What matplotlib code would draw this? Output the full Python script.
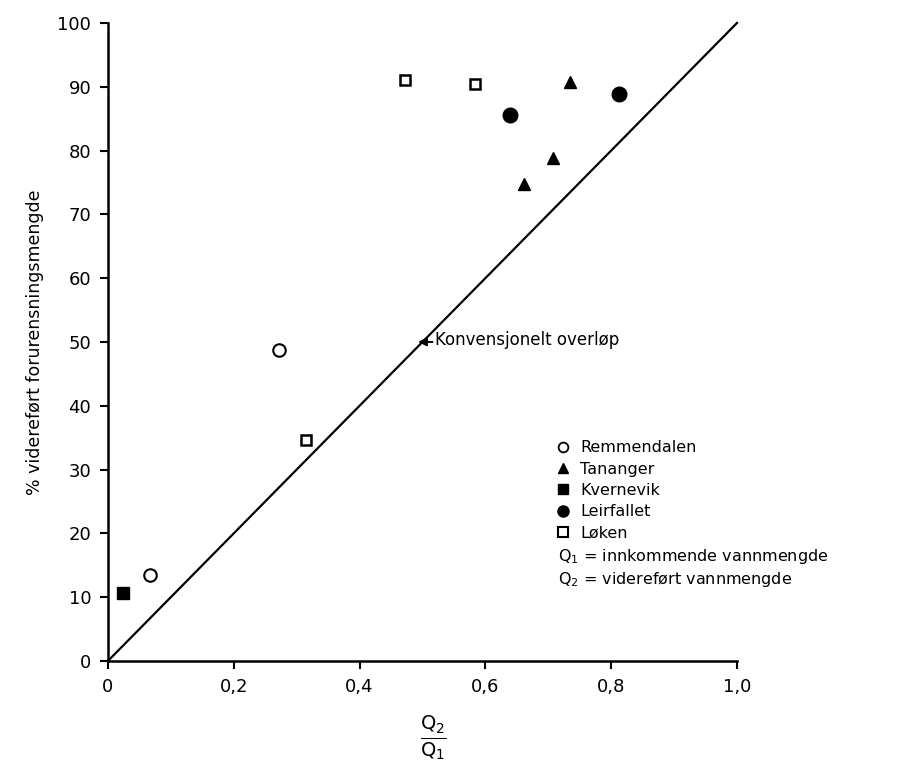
import matplotlib.pyplot as plt
from matplotlib.lines import Line2D

plt.rcParams['font.family'] = ['DejaVu Sans']
plt.rcParams['mathtext.fontset'] = 'dejavusans'

# data
remmendalen_x = [0.067, 0.272]
remmendalen_y = [13.4, 48.7]
tananger_x = [0.661, 0.707, 0.734]
tananger_y = [74.8, 78.8, 90.8]
kvernevik_x = [0.024]
kvernevik_y = [10.6]
leirfallet_x = [0.639, 0.812]
leirfallet_y = [85.5, 88.8]
loken_x = [0.315, 0.472, 0.583]
loken_y = [34.6, 91.0, 90.4]

line_x = [0.0, 1.0]
line_y = [0.0, 100.0]

x_ticks = [0, 0.2, 0.4, 0.6, 0.8, 1.0]
x_labels = ['0', '0,2', '0,4', '0,6', '0,8', '1,0']
y_ticks = list(range(0, 101, 10))

fig = plt.figure(figsize=(9.07, 7.8), dpi=100)
ax = fig.add_axes([0.119, 0.1526, 0.6936, 0.818])

ax.plot(line_x, line_y, color='black', lw=1.6, clip_on=False)

ax.plot(remmendalen_x, remmendalen_y, 'o', ms=9, mfc='white', mec='black', mew=1.5, clip_on=False)
ax.plot(tananger_x, tananger_y, '^', ms=9, color='black', clip_on=False)
ax.plot(kvernevik_x, kvernevik_y, 's', ms=9, color='black', clip_on=False)
ax.plot(leirfallet_x, leirfallet_y, 'o', ms=10.5, color='black', clip_on=False)
ax.plot(loken_x, loken_y, 's', ms=7, mfc='white', mec='black', mew=1.8, clip_on=False)

# arrow pointing at the diagonal, then the label
ax.annotate('', xy=(0.493, 50.0), xytext=(0.516, 50.0),
            arrowprops=dict(arrowstyle='-|>', color='black', lw=1.4, mutation_scale=12,
                            shrinkA=0, shrinkB=0))
ax.text(0.52, 50.3, 'Konvensjonelt overløp', fontsize=12, va='center', ha='left')

ax.set_xlim(0, 1.0)
ax.set_ylim(0, 100)
ax.set_xticks(x_ticks)
ax.set_xticklabels(x_labels)
ax.set_yticks(y_ticks)
ax.tick_params(direction='out', length=6, width=1.5, labelsize=13, pad=6)
for side in ['top', 'right']:
    ax.spines[side].set_visible(False)
for side in ['left', 'bottom']:
    ax.spines[side].set_linewidth(1.8)

ax.set_ylabel('% videreført forurensningsmengde', fontsize=12.5, labelpad=10)
fig.text(0.478, 0.055, r'$\frac{\mathrm{Q}_2}{\mathrm{Q}_1}$', fontsize=20, ha='center', va='center')

handles = [
    Line2D([], [], marker='o', ls='none', ms=7, mfc='white', mec='black', mew=1.3),
    Line2D([], [], marker='^', ls='none', ms=7, color='black'),
    Line2D([], [], marker='s', ls='none', ms=7, color='black'),
    Line2D([], [], marker='o', ls='none', ms=8, color='black'),
    Line2D([], [], marker='s', ls='none', ms=6.5, mfc='white', mec='black', mew=1.5),
]
names = ['Remmendalen', 'Tananger', 'Kvernevik', 'Leirfallet', 'Løken']
ax.legend(handles, names, loc='upper left', bbox_to_anchor=(0.70, 0.356),
          frameon=False, fontsize=11.5, handletextpad=0.6, labelspacing=0.4,
          handlelength=1.0, borderaxespad=0)

fig.text(0.615, 0.286, r'Q$_1$ = innkommende vannmengde', fontsize=11.5, va='center')
fig.text(0.615, 0.257, r'Q$_2$ = videreført vannmengde', fontsize=11.5, va='center')

fig.savefig('out.png', dpi=100)
